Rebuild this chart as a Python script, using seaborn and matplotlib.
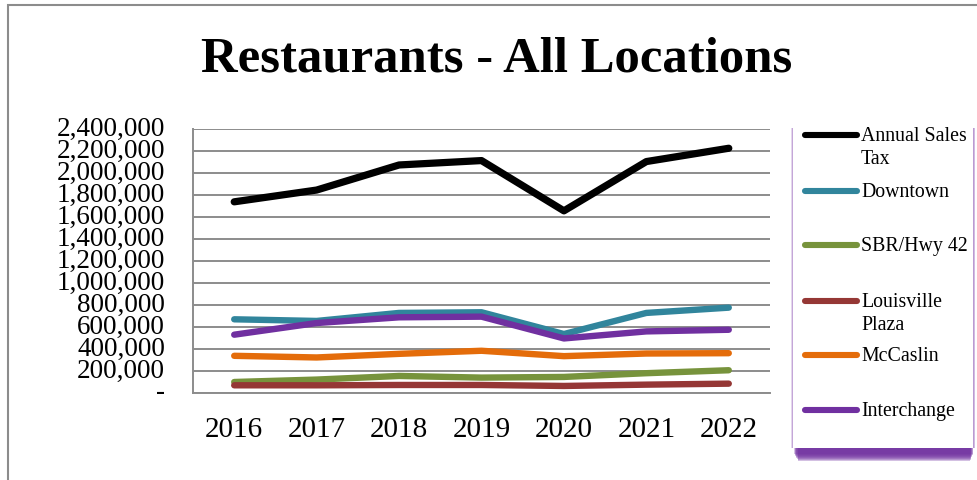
import matplotlib
matplotlib.use("Agg")
import matplotlib.pyplot as plt
from matplotlib.patches import Rectangle
from matplotlib.lines import Line2D
from matplotlib.ticker import FuncFormatter, MultipleLocator
import seaborn as sns
import pandas as pd

years = ["2016", "2017", "2018", "2019", "2020", "2021", "2022"]
series_names = ["Annual Sales Tax", "Downtown", "SBR/Hwy 42",
                "Louisville Plaza", "McCaslin", "Interchange"]
annual_sales_tax = [1738000, 1845000, 2073000, 2113000, 1656000, 2104000, 2225000]
downtown = [670000, 655000, 728000, 734000, 536000, 728000, 776000]
sbr_hwy42 = [100000, 122000, 155000, 140000, 146000, 180000, 207000]
louisville_plaza = [70000, 70000, 73000, 73000, 64000, 76000, 85000]
mccaslin = [338000, 323000, 356000, 384000, 335000, 359000, 362000]
interchange = [530000, 636000, 688000, 694000, 496000, 560000, 575000]
legend_labels = ["Annual Sales\nTax", "Downtown", "SBR/Hwy 42",
                 "Louisville\nPlaza", "McCaslin", "Interchange"]

colors = ["#000000", "#31859C", "#77933C", "#953735", "#E46C0A", "#7030A0"]
widths = [5.2, 4.6, 4.6, 4.6, 4.6, 4.6]

values = [annual_sales_tax, downtown, sbr_hwy42, louisville_plaza, mccaslin, interchange]
rows = []
for name, vals in zip(series_names, values):
    for i, v in enumerate(vals):
        rows.append({"pos": i, "year": years[i], "series": name, "value": v})
df = pd.DataFrame(rows)

sns.set_theme(style="white")
plt.rcParams["font.family"] = ["Liberation Serif", "DejaVu Serif"]
plt.rcParams["text.color"] = "black"
plt.rcParams["xtick.color"] = "black"
plt.rcParams["ytick.color"] = "black"

fig = plt.figure(figsize=(9.77, 4.8), dpi=100)
ax = fig.add_axes([193 / 977, 87 / 480, 577 / 977, 264 / 480])

for k in range(len(series_names)):
    sub = df[df["series"] == series_names[k]]
    sns.lineplot(data=sub, x="pos", y="value", ax=ax, color=colors[k],
                 linewidth=widths[k], solid_capstyle="round",
                 solid_joinstyle="round", legend=False, zorder=3 + k)

ax.set_xlim(-0.5, 6.5)
ax.set_ylim(0, 2400000)
ax.yaxis.set_major_locator(MultipleLocator(200000))
ax.yaxis.set_major_formatter(FuncFormatter(lambda v, p: "-" if v == 0 else f"{int(v):,}"))
ax.grid(axis="y", color="#8c8c8c", linewidth=1.4)
ax.set_axisbelow(True)

# Tick marks between categories, labels centred on each year
ax.set_xticks([i - 0.5 for i in range(8)])
ax.set_xticklabels([])
ax.set_xticks(range(7), minor=True)
ax.set_xticklabels(years, minor=True)
ax.tick_params(axis="x", which="major", direction="out", length=7, width=1.4, color="#8c8c8c")
ax.tick_params(axis="x", which="minor", length=0, pad=17, labelsize=21, labelcolor="black")
ax.tick_params(axis="y", direction="out", length=6, width=1.4, color="#8c8c8c",
               pad=14, labelsize=19.5, labelcolor="black")
for t in ax.get_yticklabels():
    t.set_va("center")
ax.set_xlabel("")
ax.set_ylabel("")

for side in ["top", "right"]:
    ax.spines[side].set_visible(False)
for side in ["left", "bottom"]:
    ax.spines[side].set_color("#8c8c8c")
    ax.spines[side].set_linewidth(1.4)

# Outer chart border
fig.add_artist(Rectangle((7.5 / 977, -0.01), 1.0, 1 - 4.5 / 480 + 0.01,
                         transform=fig.transFigure, fill=False,
                         edgecolor="#8c8c8c", linewidth=1.5))

fig.text(497 / 977, 1 - 59 / 480, "Restaurants - All Locations",
         ha="center", va="center", fontsize=36.5, fontweight="bold", color="black")


def fx(px):
    return px / 977


def fy(py):
    return 1 - py / 480


# Legend box with a soft purple drop shadow
box_l, box_r, box_t, box_b = 793, 973, 120, 448
for i in range(8):
    fig.add_artist(Rectangle((fx(box_l + 1 + i * 0.6), fy(box_b + 6 + i * 1.0)),
                             fx(box_r - box_l - 1 - i * 1.0), fy(box_t + 8) - fy(box_b + 6 + i * 1.0),
                             transform=fig.transFigure, facecolor="#7030A0",
                             edgecolor="none", alpha=0.3, zorder=1))
for i in range(4):
    fig.add_artist(Rectangle((fx(box_l - 2 + i * 0.5), fy(box_b)),
                             fx(box_r - box_l + 4 - i), fy(box_t + 8) - fy(box_b),
                             transform=fig.transFigure, facecolor="#A77CC6",
                             edgecolor="none", alpha=0.3, zorder=1))
fig.add_artist(Rectangle((fx(box_l), fy(box_b)), fx(box_r - box_l), fy(box_t) - fy(box_b),
                         transform=fig.transFigure, facecolor="white",
                         edgecolor="none", zorder=2))

entry_y = [135, 191, 245, 301, 355, 410]
for k in range(6):
    y = fy(entry_y[k])
    fig.add_artist(Line2D([fx(805), fx(857)], [y, y], transform=fig.transFigure,
                          color=colors[k], linewidth=4.4, solid_capstyle="round", zorder=3))
    fig.text(fx(861), fy(entry_y[k] - 8), legend_labels[k], ha="left", va="top",
             fontsize=14.3, linespacing=1.3, zorder=4, color="black")

fig.savefig("out.png", dpi=100)
